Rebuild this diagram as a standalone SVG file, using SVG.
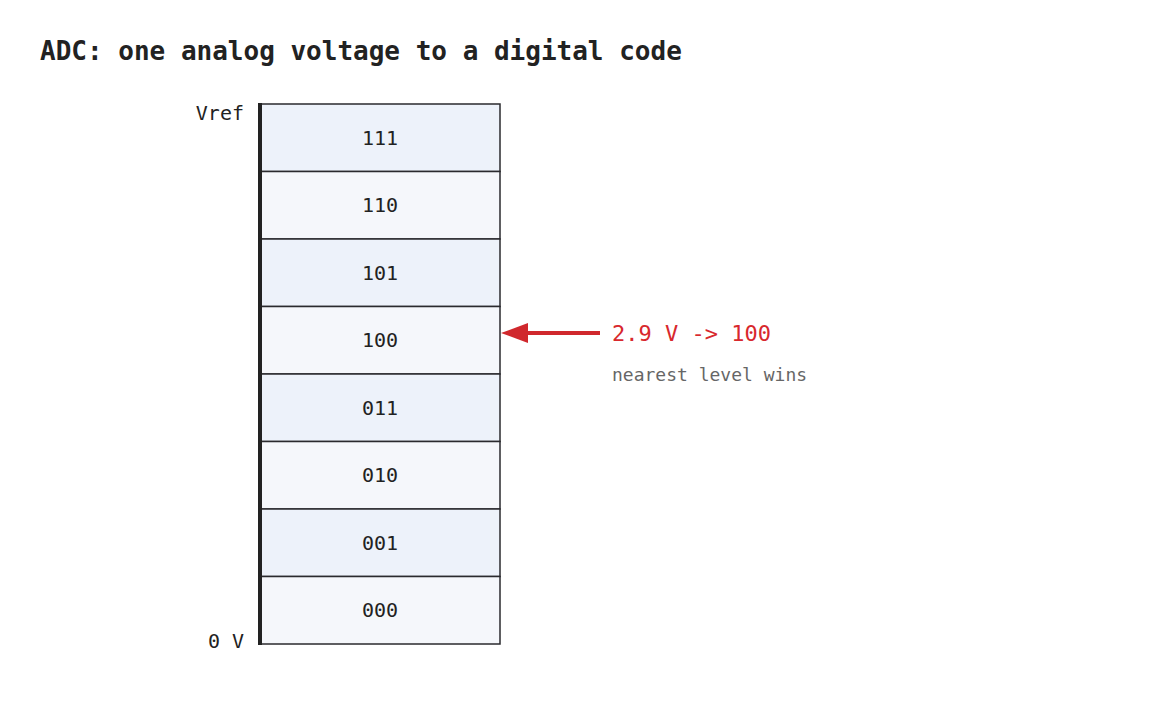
<svg xmlns="http://www.w3.org/2000/svg" width="1160" height="720" viewBox="0 0 1160 720">
<style>
text{font-family:"DejaVu Sans Mono",monospace;fill:#222}
.c rect{stroke:#2a2a2e;stroke-width:1.5}
.a{fill:#edf2fa}.b{fill:#f5f7fb}
.c text{font-size:20px;text-anchor:middle}
.ax{font-size:20px;text-anchor:end}
</style>
<defs><marker id="h" markerWidth="10" markerHeight="8" refX="0" refY="4" orient="auto" markerUnits="userSpaceOnUse"><path d="M0,0"/></marker></defs>
<rect width="1160" height="720" fill="#fff"/>
<text x="40" y="60" font-size="26" font-weight="bold">ADC: one analog voltage to a digital code</text>
<g id="cell111" class="c"><rect class="a" x="260" y="104" width="240" height="67.5"/><text x="380" y="145">111</text></g>
<g id="cell110" class="c"><rect class="b" x="260" y="171.5" width="240" height="67.5"/><text x="380" y="212">110</text></g>
<g id="cell101" class="c"><rect class="a" x="260" y="239" width="240" height="67.5"/><text x="380" y="280">101</text></g>
<g id="cell100" class="c"><rect class="b" x="260" y="306.5" width="240" height="67.5"/><text x="380" y="347">100</text></g>
<g id="cell011" class="c"><rect class="a" x="260" y="374" width="240" height="67.5"/><text x="380" y="415">011</text></g>
<g id="cell010" class="c"><rect class="b" x="260" y="441.5" width="240" height="67.5"/><text x="380" y="482">010</text></g>
<g id="cell001" class="c"><rect class="a" x="260" y="509" width="240" height="67.5"/><text x="380" y="550">001</text></g>
<g id="cell000" class="c"><rect class="b" x="260" y="576.5" width="240" height="67.5"/><text x="380" y="617">000</text></g>
<g id="axis"><line x1="260" y1="103" x2="260" y2="645" stroke="#222" stroke-width="4"/>
<text class="ax" x="244" y="120">Vref</text><text class="ax" x="244" y="648">0 V</text></g>
<g id="connectors"><line x1="600" y1="333" x2="525" y2="333" stroke="#d0282d" stroke-width="4"/><polygon points="501,333 528,323 528,343" fill="#d0282d"/></g>
<g id="label"><text x="612" y="341" font-size="22" style="fill:#d8282d">2.9 V -&gt; 100</text>
<text x="612" y="381" font-size="18" style="fill:#666">nearest level wins</text></g>
</svg>
